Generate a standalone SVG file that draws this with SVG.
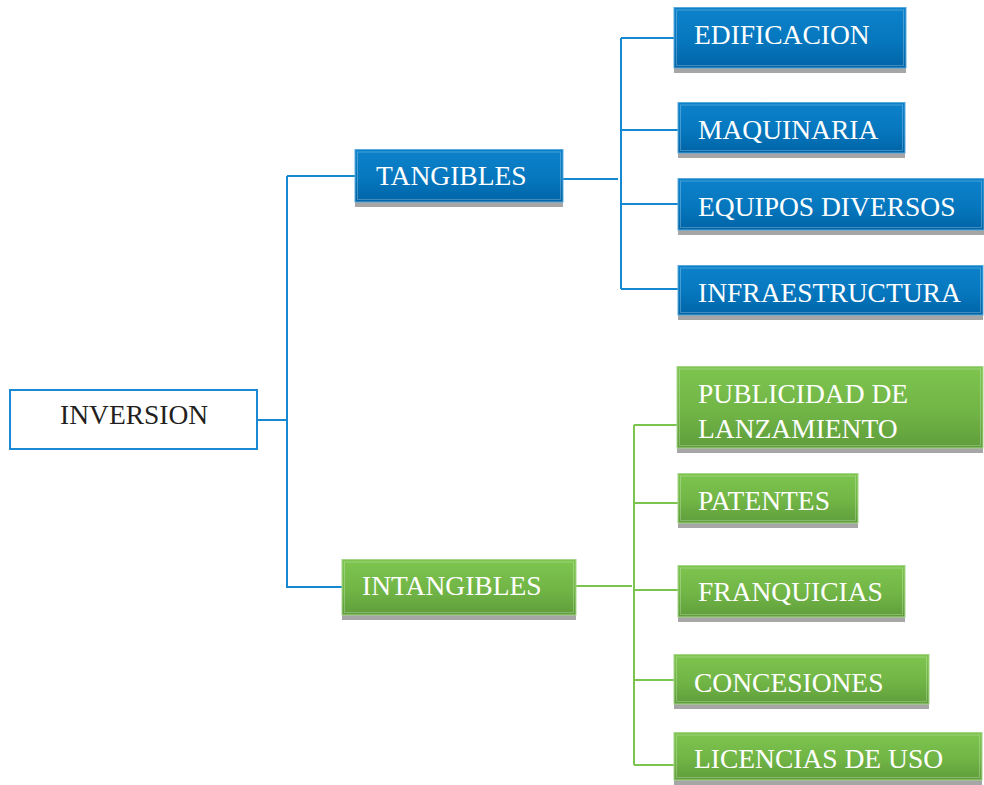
<svg xmlns="http://www.w3.org/2000/svg" width="984" height="785" viewBox="0 0 984 785">
  <defs>
    <linearGradient id="blueFill" x1="0" y1="0" x2="0" y2="1">
      <stop offset="0" stop-color="#0C82CB"/>
      <stop offset="0.55" stop-color="#0677BE"/>
      <stop offset="1" stop-color="#0064A6"/>
    </linearGradient>
    <linearGradient id="greenFill" x1="0" y1="0" x2="0" y2="1">
      <stop offset="0" stop-color="#7EC54F"/>
      <stop offset="0.55" stop-color="#71B546"/>
      <stop offset="1" stop-color="#5F9D3B"/>
    </linearGradient>
  </defs>
  <style>
    .shadow { fill: #A6A6A6; }
    .blue { fill: url(#blueFill); stroke: #5AA9DC; stroke-width: 1; }
    .green { fill: url(#greenFill); stroke: #A6D68A; stroke-width: 1; }
    .inner { fill: none; stroke: #FFFFFF; stroke-opacity: 0.25; stroke-width: 1; }
    .label { font-family: "Liberation Serif", "Times New Roman", serif; font-size: 27.5px; fill: #FFFFFF; }
    .dark { fill: #231F20; }
    .wire { fill: none; stroke-width: 2; }
    .wire-blue { stroke: #1588D0; }
    .wire-green { stroke: #7CC450; }
  </style>

  <!-- connectors -->
  <g id="connectors">
    <path class="wire wire-blue" d="M257 420 H287 M287 176 V588 M287 176 H355 M287 587 H342"/>
    <path class="wire wire-blue" d="M563 179 H618 M621 38 V289 M621 38 H674 M621 130 H678 M621 204 H678 M621 289 H678"/>
    <path class="wire wire-green" d="M576 586 H632 M634 425 V765 M634 425 H677 M634 503 H678 M634 590 H678 M634 680 H674 M634 765 H674"/>
  </g>

  <!-- root -->
  <g id="inversion">
    <rect x="10" y="390" width="247" height="59" fill="#FFFFFF" stroke="#1C8AD2" stroke-width="2"/>
    <text class="label dark" x="60" y="424">INVERSION</text>
  </g>

  <!-- tangible branch -->
  <g id="tangibles">
    <rect class="shadow" x="355" y="152" width="208" height="55"/>
    <rect class="blue" x="355" y="149.5" width="208" height="52.5"/>
    <rect class="inner" x="357.5" y="152" width="203" height="47.5"/>
    <text class="label" x="376" y="185">TANGIBLES</text>
  </g>
  <g id="edificacion">
    <rect class="shadow" x="674" y="10" width="232" height="63"/>
    <rect class="blue" x="674" y="7.5" width="232" height="60.5"/>
    <rect class="inner" x="676.5" y="10" width="227" height="55.5"/>
    <text class="label" x="694" y="44">EDIFICACION</text>
  </g>
  <g id="maquinaria">
    <rect class="shadow" x="678" y="105" width="227" height="53"/>
    <rect class="blue" x="678" y="102.5" width="227" height="50.5"/>
    <rect class="inner" x="680.5" y="105" width="222" height="45.5"/>
    <text class="label" x="698" y="139">MAQUINARIA</text>
  </g>
  <g id="equipos">
    <rect class="shadow" x="678" y="181" width="306" height="54"/>
    <rect class="blue" x="678" y="178.5" width="306" height="51.5"/>
    <rect class="inner" x="680.5" y="181" width="301" height="46.5"/>
    <text class="label" x="698" y="216">EQUIPOS DIVERSOS</text>
  </g>
  <g id="infraestructura">
    <rect class="shadow" x="678" y="268" width="305" height="52"/>
    <rect class="blue" x="678" y="265.5" width="305" height="49.5"/>
    <rect class="inner" x="680.5" y="268" width="300" height="44.5"/>
    <text class="label" x="698" y="302">INFRAESTRUCTURA</text>
  </g>

  <!-- intangible branch -->
  <g id="intangibles">
    <rect class="shadow" x="342" y="562" width="234" height="58"/>
    <rect class="green" x="342" y="559.5" width="234" height="55.5"/>
    <rect class="inner" x="344.5" y="562" width="229" height="50.5"/>
    <text class="label" x="362" y="595">INTANGIBLES</text>
  </g>
  <g id="publicidad">
    <rect class="shadow" x="677" y="369" width="306" height="84"/>
    <rect class="green" x="677" y="366.5" width="306" height="81.5"/>
    <rect class="inner" x="679.5" y="369" width="301" height="76.5"/>
    <text class="label" x="698" y="403">PUBLICIDAD DE</text>
    <text class="label" x="698" y="438">LANZAMIENTO</text>
  </g>
  <g id="patentes">
    <rect class="shadow" x="678" y="476" width="180" height="52"/>
    <rect class="green" x="678" y="473.5" width="180" height="49.5"/>
    <rect class="inner" x="680.5" y="476" width="175" height="44.5"/>
    <text class="label" x="698" y="510">PATENTES</text>
  </g>
  <g id="franquicias">
    <rect class="shadow" x="678" y="568" width="227" height="54"/>
    <rect class="green" x="678" y="565.5" width="227" height="51.5"/>
    <rect class="inner" x="680.5" y="568" width="222" height="46.5"/>
    <text class="label" x="698" y="601">FRANQUICIAS</text>
  </g>
  <g id="concesiones">
    <rect class="shadow" x="674" y="657" width="255" height="52"/>
    <rect class="green" x="674" y="654.5" width="255" height="49.5"/>
    <rect class="inner" x="676.5" y="657" width="250" height="44.5"/>
    <text class="label" x="694" y="692">CONCESIONES</text>
  </g>
  <g id="licencias">
    <rect class="shadow" x="674" y="735" width="308" height="50"/>
    <rect class="green" x="674" y="732.5" width="308" height="47.5"/>
    <rect class="inner" x="676.5" y="735" width="303" height="42.5"/>
    <text class="label" x="694" y="768">LICENCIAS DE USO</text>
  </g>
</svg>
